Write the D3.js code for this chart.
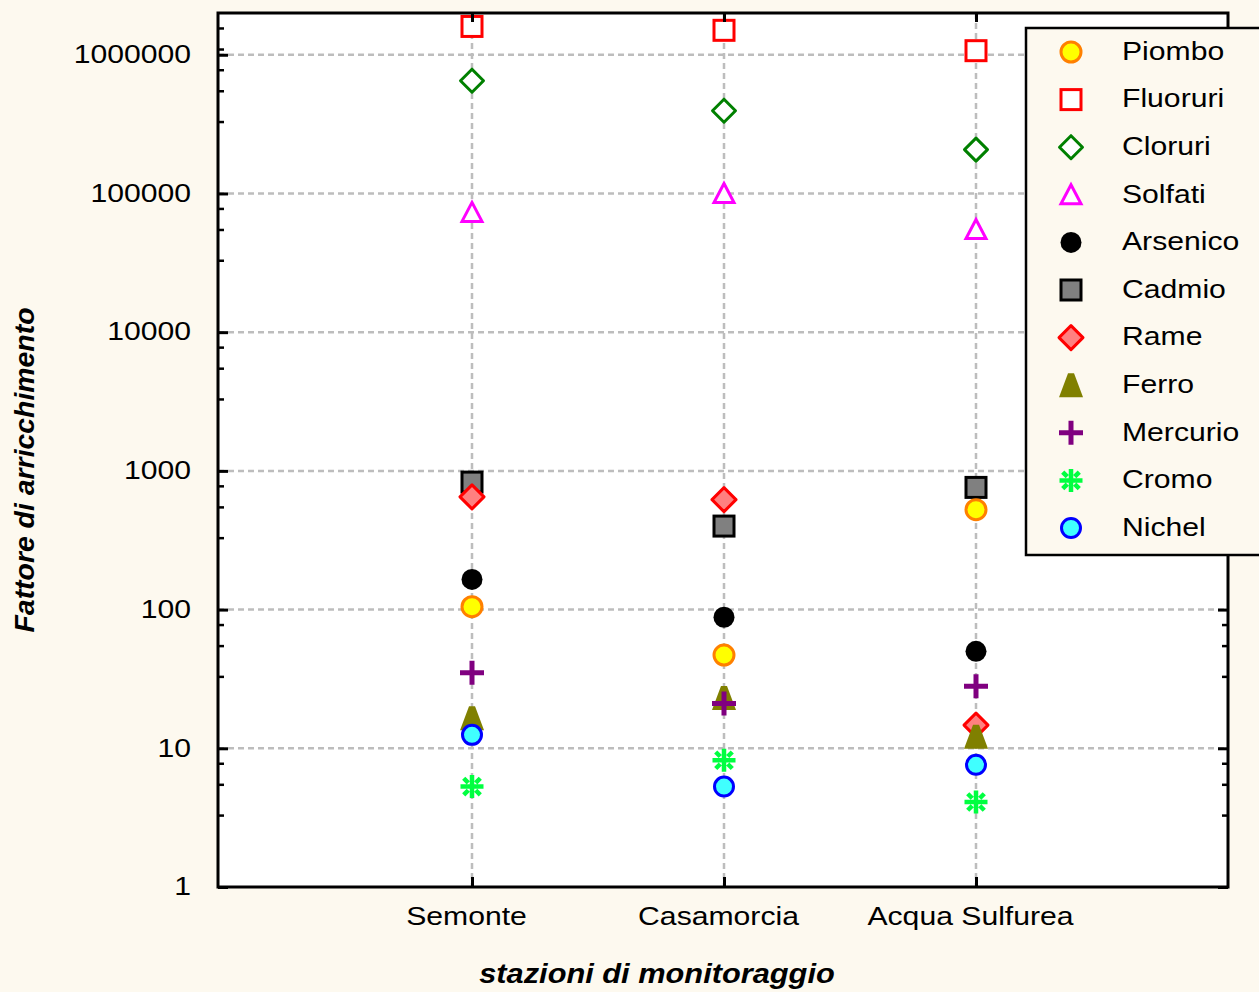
<!DOCTYPE html>
<html>
<head>
<meta charset="utf-8">
<script src="https://cdn.jsdelivr.net/npm/d3@7/dist/d3.min.js"></script>
<style>
  html, body { margin: 0; padding: 0; background: #fdf9ef; }
  svg { display: block; }
  text { font-family: "Liberation Sans", Arial, sans-serif; fill: #000; }
</style>
</head>
<body>
<svg id="chart" width="1259" height="992"></svg>
<script>
// ---------- DATA ----------
const stations = ["Semonte", "Casamorcia", "Acqua Sulfurea"];
const piombo   = [105, 47, 525];
const fluoruri = [1600000, 1500000, 1070000];
const cloruri  = [650000, 395000, 207000];
const solfati  = [73000, 100000, 55000];
const arsenico = [165, 88, 50];
const cadmio   = [830, 400, 760];
const rame     = [650, 620, 14.7];
const ferro    = [16.5, 23, 12.1];
const mercurio = [35, 21, 28];
const cromo    = [5.3, 8.2, 4.1];
const nichel   = [12.5, 5.3, 7.6];
const yTicks   = [1, 10, 100, 1000, 10000, 100000, 1000000];
const minorFactors = [0.78, 0.55, 0.33];
const seriesNames = ["Piombo", "Fluoruri", "Cloruri", "Solfati", "Arsenico", "Cadmio",
                     "Rame", "Ferro", "Mercurio", "Cromo", "Nichel"];
const xTitle = "stazioni di monitoraggio";
const yTitle = "Fattore di arricchimento";

// ---------- STYLE ----------
const series = [
  {name: "Piombo",   values: piombo,   shape: "circle",   r: 10,   fill: "#ffff00", stroke: "#ff8000", sw: 3},
  {name: "Fluoruri", values: fluoruri, shape: "square",   r: 10,   fill: "#ffffff", stroke: "#ff0000", sw: 3},
  {name: "Cloruri",  values: cloruri,  shape: "diamond",  r: 11.5, fill: "#ffffff", stroke: "#008000", sw: 3},
  {name: "Solfati",  values: solfati,  shape: "triangle", r: 10,   fill: "#ffffff", stroke: "#ff00ff", sw: 3},
  {name: "Arsenico", values: arsenico, shape: "circle",   r: 10.5, fill: "#000000", stroke: "none",    sw: 0},
  {name: "Cadmio",   values: cadmio,   shape: "square",   r: 10,   fill: "#808080", stroke: "#000000", sw: 3},
  {name: "Rame",     values: rame,     shape: "diamond",  r: 12,   fill: "#ff8080", stroke: "#ff0000", sw: 3},
  {name: "Ferro",    values: ferro,    shape: "triangleF",r: 12,   fill: "#808000", stroke: "none",    sw: 0},
  {name: "Mercurio", values: mercurio, shape: "plus",     r: 12,   fill: "none",    stroke: "#800080", sw: 5},
  {name: "Cromo",    values: cromo,    shape: "asterisk", r: 11.5, fill: "none",    stroke: "#00ff40", sw: 4.5},
  {name: "Nichel",   values: nichel,   shape: "circle",   r: 9.5,  fill: "#40ffff", stroke: "#0000ff", sw: 3}
];
const drawOrder = ["Fluoruri","Cloruri","Solfati","Arsenico","Cadmio","Piombo","Rame","Ferro","Mercurio","Cromo","Nichel"];
const STRETCH = 1.16;
const BG = "#fdf9ef";

const L = 218, R = 1228, T = 13, B = 887;

const svg = d3.select("#chart");
svg.append("rect").attr("width", 1259).attr("height", 992).attr("fill", BG);
svg.append("rect").attr("x", L).attr("y", T).attr("width", R - L).attr("height", B - T).attr("fill", "#ffffff");

const x = d3.scalePoint().domain(stations).range([L + 2, R]).padding(1);
const y = d3.scaleLog().domain([1, 2000000]).range([B, T]);

// grid
const grid = svg.append("g");
grid.selectAll("line.h").data(yTicks.slice(1)).join("line")
  .attr("x1", L).attr("x2", R).attr("y1", d => y(d)).attr("y2", d => y(d))
  .attr("stroke", "#bdbdbd").attr("stroke-width", 2.5).attr("stroke-dasharray", "6,4");
grid.selectAll("line.v").data(stations).join("line")
  .attr("x1", d => x(d)).attr("x2", d => x(d)).attr("y1", T).attr("y2", B)
  .attr("stroke", "#bdbdbd").attr("stroke-width", 2.5).attr("stroke-dasharray", "6,4");

// marker drawing
function marker(g, s) {
  const r = s.r;
  let el;
  switch (s.shape) {
    case "circle":
      el = g.append("circle").attr("r", r); break;
    case "square":
      el = g.append("rect").attr("x", -r).attr("y", -r).attr("width", 2 * r).attr("height", 2 * r); break;
    case "diamond":
      el = g.append("path").attr("d", `M0,${-r}L${r},0L0,${r}L${-r},0Z`).attr("stroke-linejoin", "round"); break;
    case "triangle":
      el = g.append("path").attr("d", `M0,${-r}L${r},${r * 0.9}L${-r},${r * 0.9}Z`); break;
    case "triangleF":
      el = g.append("path").attr("d", `M-3,${-r}L3,${-r}L${r},${r}L${-r},${r}Z`); break;
    case "plus":
      el = g.append("path").attr("d", `M${-r},0L${r},0M0,${-r}L0,${r}`); break;
    case "asterisk": {
      const d = r * 0.72;
      el = g.append("path").attr("d",
        `M${-r},0L${r},0M0,${-r}L0,${r}M${-d},${-d}L${-d * 0.45},${-d * 0.45}M${d},${-d}L${d * 0.45},${-d * 0.45}M${-d},${d}L${-d * 0.45},${d * 0.45}M${d},${d}L${d * 0.45},${d * 0.45}`);
      break;
    }
  }
  el.attr("fill", s.fill).attr("stroke", s.stroke).attr("stroke-width", s.sw);
}

// points
const pts = svg.append("g");
drawOrder.forEach(name => {
  const s = series.find(d => d.name === name);
  s.values.forEach((v, i) => {
    const g = pts.append("g").attr("transform", `translate(${x(stations[i])},${y(v)})`);
    marker(g, s);
  });
});

// axes (ticks inward)
const yMinor = [];
yTicks.slice(1).forEach(t => minorFactors.forEach(f => yMinor.push(t * f)));
yMinor.push(...minorFactors.map(f => 2000000 * f).filter(v => v > 1000000));

const axL = svg.append("g").attr("transform", `translate(${L},0)`)
  .call(d3.axisLeft(y).tickValues(yTicks).tickSize(-10).tickPadding(27).tickFormat(d3.format("d")));
axL.select(".domain").remove();
axL.selectAll("line").attr("stroke", "#000").attr("stroke-width", 3);
axL.selectAll("text").attr("font-size", 26).attr("font-family", "Liberation Sans, Arial, sans-serif")
  .attr("x", -27 / STRETCH).attr("dy", "0.3em").attr("transform", `scale(${STRETCH},1)`);

const axLm = svg.append("g").attr("transform", `translate(${L},0)`)
  .call(d3.axisLeft(y).tickValues(yMinor).tickSize(-6).tickFormat(""));
axLm.select(".domain").remove();
axLm.selectAll("line").attr("stroke", "#000").attr("stroke-width", 2.5);

const axR = svg.append("g").attr("transform", `translate(${R},0)`)
  .call(d3.axisRight(y).tickValues(yTicks).tickSize(-10).tickFormat(""));
axR.select(".domain").remove();
axR.selectAll("line").attr("stroke", "#000").attr("stroke-width", 3);
const axRm = svg.append("g").attr("transform", `translate(${R},0)`)
  .call(d3.axisRight(y).tickValues(yMinor).tickSize(-6).tickFormat(""));
axRm.select(".domain").remove();
axRm.selectAll("line").attr("stroke", "#000").attr("stroke-width", 2.5);

const axB = svg.append("g").attr("transform", `translate(0,${B})`)
  .call(d3.axisBottom(x).tickSize(-10).tickPadding(20));
axB.select(".domain").remove();
axB.selectAll("line").attr("stroke", "#000").attr("stroke-width", 3);
axB.selectAll("text").attr("font-size", 26).attr("font-family", "Liberation Sans, Arial, sans-serif")
  .attr("x", -6 / STRETCH).attr("dy", "0.71em").attr("transform", `scale(${STRETCH},1)`);

const axT = svg.append("g").attr("transform", `translate(0,${T})`)
  .call(d3.axisTop(x).tickSize(-9).tickFormat(""));
axT.select(".domain").remove();
axT.selectAll("line").attr("stroke", "#000").attr("stroke-width", 3);

// frame
svg.append("rect").attr("x", L).attr("y", T).attr("width", R - L).attr("height", B - T)
  .attr("fill", "none").attr("stroke", "#000").attr("stroke-width", 3);

// axis titles
svg.append("text")
  .attr("transform", `translate(657,983) scale(1.14,1)`)
  .attr("text-anchor", "middle").attr("font-size", 27)
  .attr("font-weight", "bold").attr("font-style", "italic")
  .text(xTitle);
svg.append("text")
  .attr("transform", `translate(34,470) rotate(-90)`)
  .attr("text-anchor", "middle").attr("font-size", 28.4)
  .attr("font-weight", "bold").attr("font-style", "italic")
  .text(yTitle);

// legend
const lg = svg.append("g");
lg.append("rect").attr("x", 1026).attr("y", 28).attr("width", 260).attr("height", 527)
  .attr("fill", BG).attr("stroke", "#000").attr("stroke-width", 2.5);
const legY = d3.scalePoint().domain(seriesNames).range([52, 528]);
seriesNames.forEach(name => {
  const s = series.find(d => d.name === name);
  const g = lg.append("g").attr("transform", `translate(1071,${legY(name)})`);
  marker(g, s);
  lg.append("text")
    .attr("transform", `translate(1122,${legY(name)}) scale(${STRETCH},1)`)
    .attr("dy", "0.3em").attr("font-size", 26)
    .text(name);
});
</script>
</body>
</html>
